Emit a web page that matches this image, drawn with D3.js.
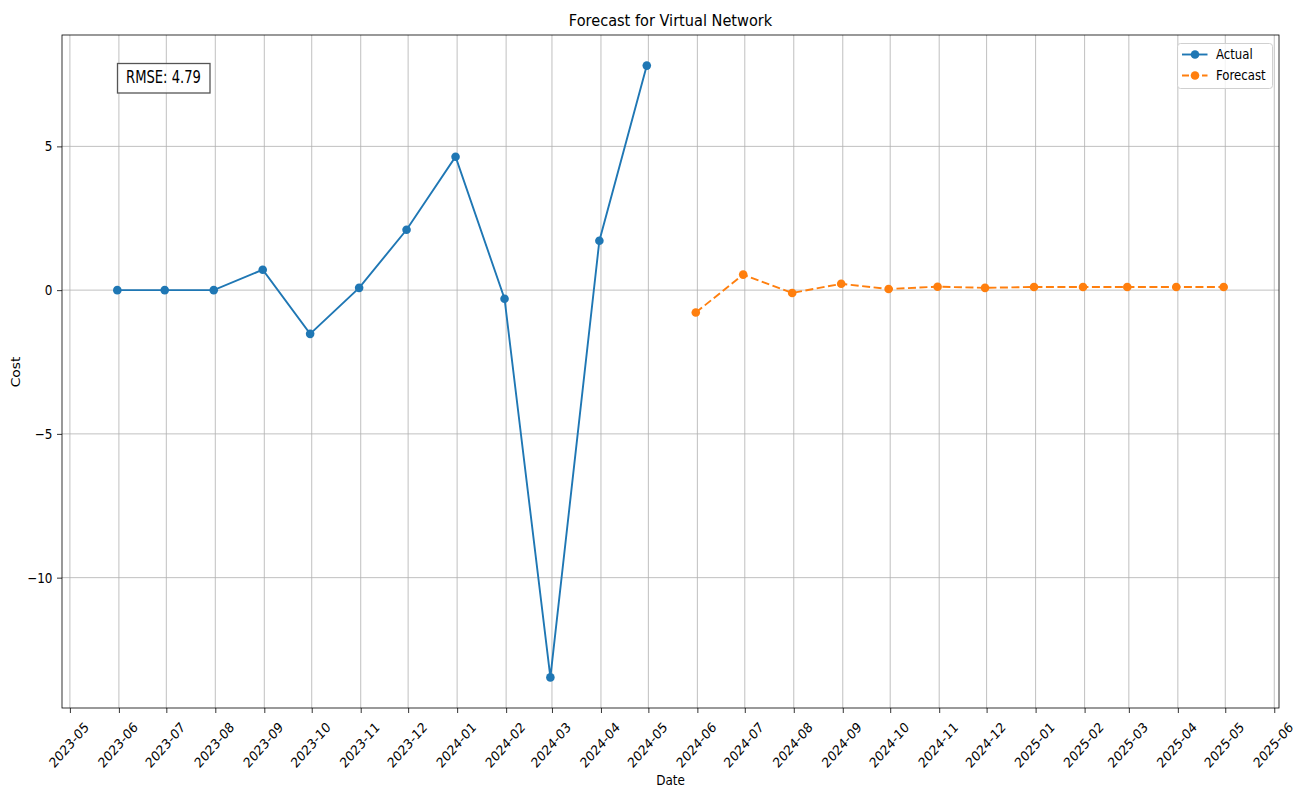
<!DOCTYPE html>
<html><head><meta charset="utf-8">
<script src="https://cdn.jsdelivr.net/npm/d3@7"></script>
<style>body{margin:0;background:#fff}text{font-family:"DejaVu Sans",sans-serif;fill:#000}</style>
</head><body><svg id="c" width="1304" height="787"></svg>
<script>
const actualDates = ["2023-05-31","2023-06-30","2023-07-31","2023-08-31","2023-09-30","2023-10-31","2023-11-30","2023-12-31","2024-01-31","2024-02-29","2024-03-31","2024-04-30"];
const actualValues = [0,0,0,0.71,-1.52,0.08,2.10,4.64,-0.30,-13.47,1.72,7.81];
const forecastDates = ["2024-05-31","2024-06-30","2024-07-31","2024-08-31","2024-09-30","2024-10-31","2024-11-30","2024-12-31","2025-01-31","2025-02-28","2025-03-31","2025-04-30"];
const forecastValues = [-0.78,0.54,-0.10,0.22,0.04,0.12,0.08,0.11,0.11,0.11,0.11,0.11];
const yTicks = [-10,-5,0,5];
const titleText = "Forecast for Virtual Network";
const rmseText = "RMSE: 4.79";

const SX = 0.87;
const parse = d3.utcParse("%Y-%m-%d");
const A = actualDates.map((d,i)=>({x:parse(d),y:actualValues[i]}));
const F = forecastDates.map((d,i)=>({x:parse(d),y:forecastValues[i]}));
const all = A.concat(F);
const L=62,R=1279,T=35,B=708;
const xe = d3.extent(all,d=>d.x), xm=(xe[1]-xe[0])*0.05;
const ye = d3.extent(all,d=>d.y), ym=(ye[1]-ye[0])*0.05;
const x = d3.scaleUtc().domain([new Date(+xe[0]-xm), new Date(+xe[1]+xm)]).range([L,R]);
const y = d3.scaleLinear().domain([ye[0]-ym, ye[1]+ym]).range([B,T]);
const svg = d3.select("#c");
const xt = d3.utcMonth.range(d3.utcMonth.ceil(x.domain()[0]), x.domain()[1]);
const g = svg.append("g");
// grid
g.selectAll(".gx").data(xt).join("line").attr("x1",d=>x(d)).attr("x2",d=>x(d)).attr("y1",T).attr("y2",B).attr("stroke","#b0b0b0").attr("stroke-width",0.8);
g.selectAll(".gy").data(yTicks).join("line").attr("x1",L).attr("x2",R).attr("y1",d=>y(d)).attr("y2",d=>y(d)).attr("stroke","#b0b0b0").attr("stroke-width",0.8);
// axes
const fmt = d3.utcFormat("%Y-%m");
const xa = svg.append("g").attr("transform",`translate(0,${B})`).call(d3.axisBottom(x).tickValues(xt).tickFormat(fmt).tickSize(5));
xa.select(".domain").remove();
xa.selectAll("text").attr("font-size",13.8).attr("text-anchor","middle").attr("x",0).attr("y",0).attr("dy","0.35em")
  .attr("transform",`translate(-1.5,37) scale(${SX},1) rotate(-45)`);
const ya = svg.append("g").attr("transform",`translate(${L},0)`).call(d3.axisLeft(y).tickValues(yTicks).tickFormat(d=>d<0?"\u2212"+Math.abs(d):d).tickSize(5));
ya.select(".domain").remove();
ya.selectAll("text").attr("font-size",13.8).attr("x",0).attr("transform",`translate(-9.5,0) scale(${SX},1)`);
svg.selectAll(".tick line").attr("stroke","#000").attr("stroke-width",0.8);
svg.selectAll(".tick text").attr("fill","#000").attr("font-family","DejaVu Sans");
svg.append("rect").attr("x",L).attr("y",T).attr("width",R-L).attr("height",B-T).attr("fill","none").attr("stroke","#000").attr("stroke-width",0.8);
// lines
const line = d3.line().x(d=>x(d.x)).y(d=>y(d.y));
svg.append("path").datum(A).attr("d",line).attr("fill","none").attr("stroke","#1f77b4").attr("stroke-width",1.9);
svg.selectAll(".pa").data(A).join("circle").attr("cx",d=>x(d.x)).attr("cy",d=>y(d.y)).attr("r",4.3).attr("fill","#1f77b4");
svg.append("path").datum(F).attr("d",line).attr("fill","none").attr("stroke","#ff7f0e").attr("stroke-width",1.9).attr("stroke-dasharray","8,3.5");
svg.selectAll(".pf").data(F).join("circle").attr("cx",d=>x(d.x)).attr("cy",d=>y(d.y)).attr("r",4.3).attr("fill","#ff7f0e");
// title & labels
svg.append("text").attr("transform",`translate(${(L+R)/2},26) scale(${SX},1)`).attr("text-anchor","middle").attr("font-size",16.7).text(titleText);
svg.append("text").attr("transform",`translate(${(L+R)/2},784.5) scale(${SX},1)`).attr("text-anchor","middle").attr("font-size",13.8).text("Date");
svg.append("text").attr("transform",`translate(20,372) scale(${SX},1) rotate(-90)`).attr("text-anchor","middle").attr("font-size",13.8).text("Cost");
// RMSE box
svg.append("rect").attr("x",117.5).attr("y",63.5).attr("width",92.5).attr("height",29.5).attr("fill","#fff").attr("fill-opacity",0.8).attr("stroke","#555").attr("stroke-width",1.3);
svg.append("text").attr("transform","translate(163.5,83.3) scale(0.73,1)").attr("text-anchor","middle").attr("font-size",18).text(rmseText);
// legend
const lg = svg.append("g");
lg.append("rect").attr("x",1177.5).attr("y",43.5).attr("width",95).attr("height",45).attr("rx",3).attr("fill","#fff").attr("fill-opacity",0.8).attr("stroke","#d0d0d0");
const items=[{n:"Actual",c:"#1f77b4",d:null},{n:"Forecast",c:"#ff7f0e",d:"7,3"}];
items.forEach((it,i)=>{const yy=54.5+i*21;
 lg.append("line").attr("x1",1182).attr("x2",1207.5).attr("y1",yy).attr("y2",yy).attr("stroke",it.c).attr("stroke-width",1.9).attr("stroke-dasharray",it.d);
 lg.append("circle").attr("cx",1195).attr("cy",yy).attr("r",4.3).attr("fill",it.c);
 lg.append("text").attr("transform",`translate(1216,${yy+4.8}) scale(${SX},1)`).attr("font-size",13.5).text(it.n);});
</script></body></html>
